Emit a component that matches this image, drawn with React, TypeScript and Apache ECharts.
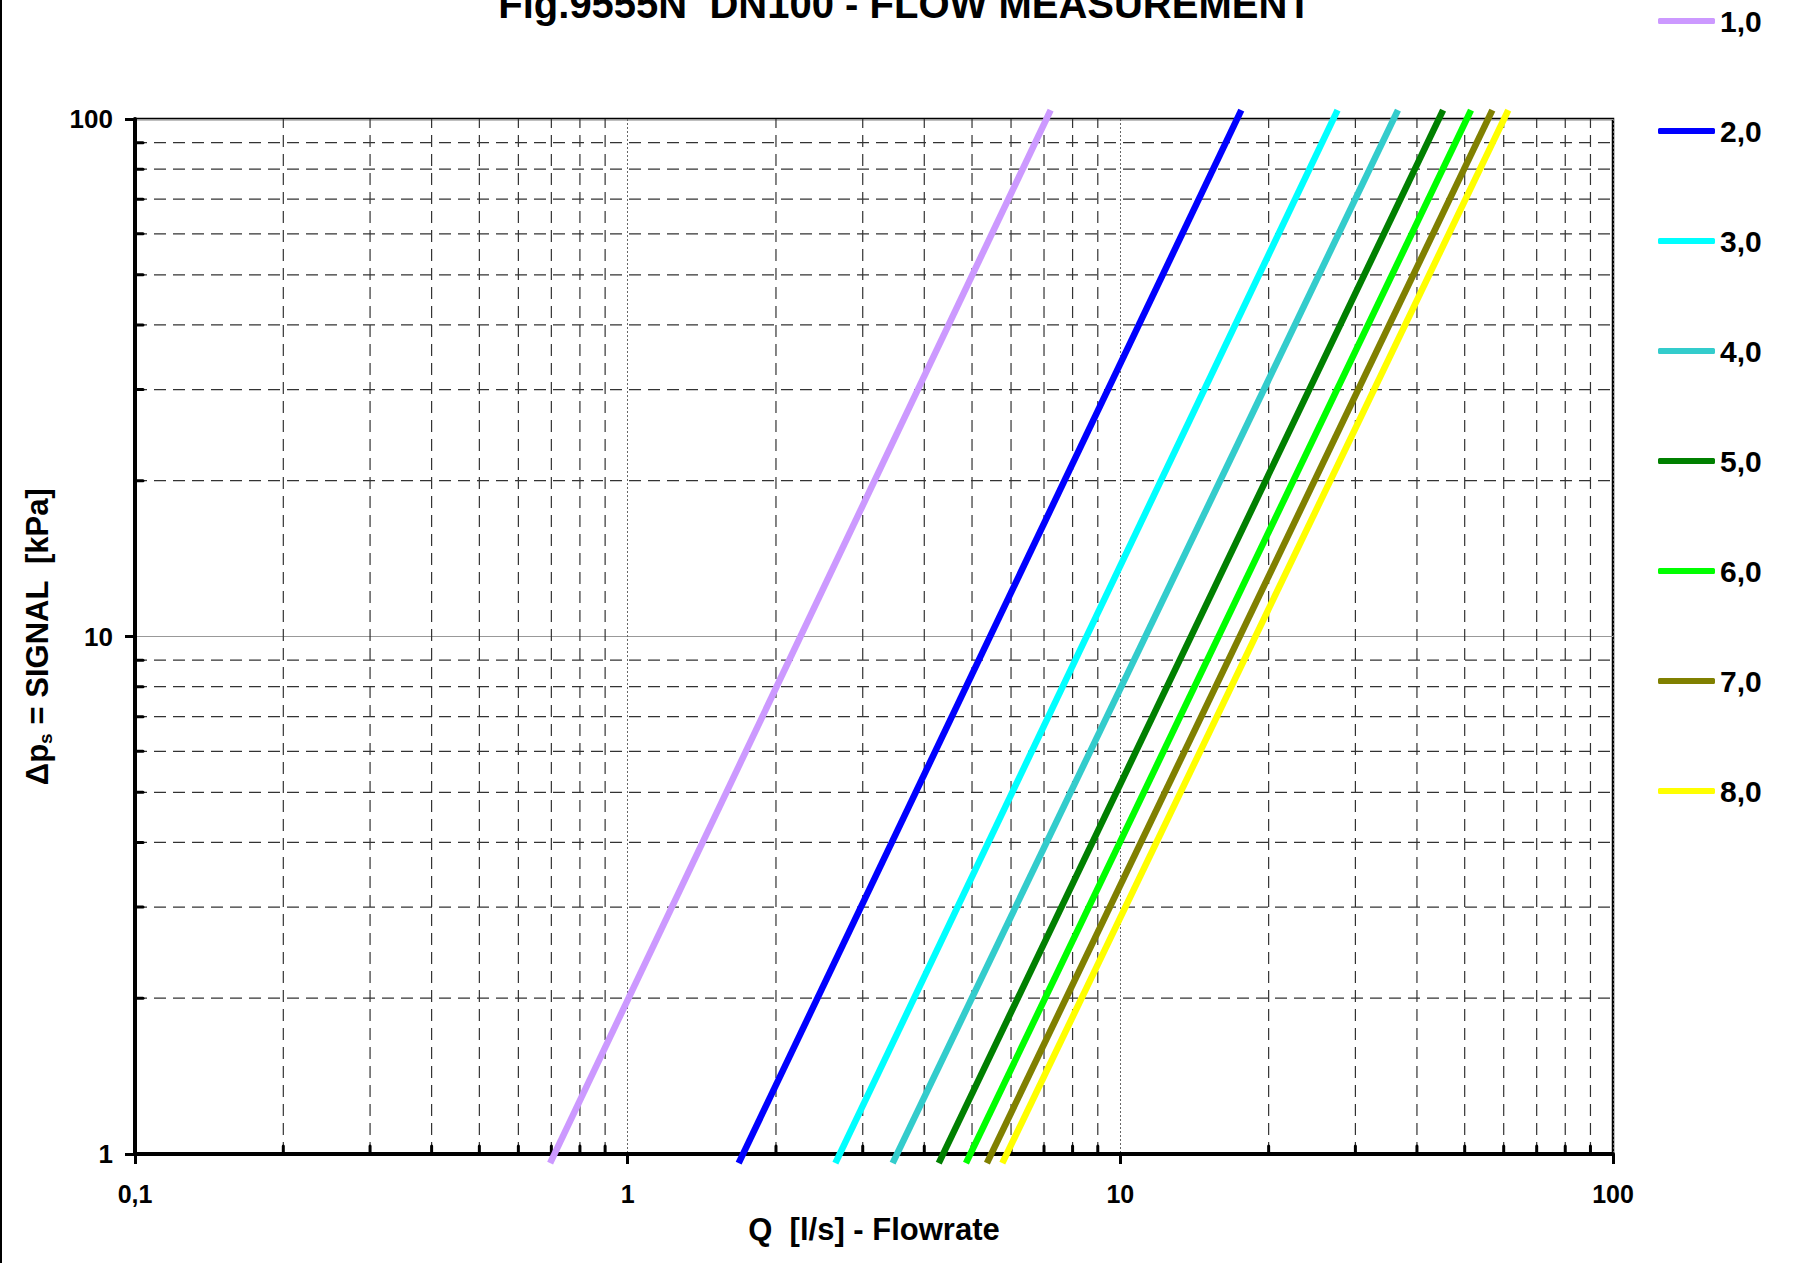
import React, { useEffect, useRef } from "react";
import * as echarts from "echarts";

// ---------- data ----------
const seriesNames = ["1,0", "2,0", "3,0", "4,0", "5,0", "6,0", "7,0", "8,0"];
const seriesColors = ["#cc99ff", "#0000ff", "#00ffff", "#33cccc", "#008000", "#00ff00", "#808000", "#ffff00"];
// Flow Q [l/s] read at the visible ends of each curve: Δp ≈ 0.96 kPa (bottom) and Δp ≈ 104 kPa (top)
const dpLow = 0.96;
const dpHigh = 104;
const qAtLow = [0.696, 1.68, 2.64, 3.45, 4.28, 4.86, 5.36, 5.76];
const qAtHigh = [7.22, 17.6, 27.6, 36.6, 45.2, 51.5, 56.9, 61.3];

// axis ranges & minor grid values
const X_MIN = 0.1;
const X_MAX = 100;
const Y_MIN = 1;
const Y_MAX = 100;
const xMinor = [0.2, 0.3, 0.4, 0.5, 0.6, 0.7, 0.8, 0.9, 2, 3, 4, 5, 6, 7, 8, 9, 20, 30, 40, 50, 60, 70, 80, 90];
const yMinor = [2, 3, 4, 5, 6, 7, 8, 9, 20, 30, 40, 50, 60, 70, 80, 90];

const TITLE = "Fig.9555N  DN100 - FLOW MEASUREMENT";
const X_NAME = "Q  [l/s] - Flowrate";

const FONT = "'Liberation Sans', Arial, sans-serif";

export default function App() {
  const ref = useRef<HTMLDivElement>(null);
  useEffect(() => {
    if (!ref.current) return;
    const chart = echarts.init(ref.current, null, { renderer: "svg" });

    const gridData: number[][] = [
      ...xMinor.map((v) => [v, Y_MIN, 0]),
      ...yMinor.map((v) => [X_MIN, v, 1]),
    ];

    const lineSeries = seriesNames.map((name, i) => ({
      type: "line",
      name,
      data: [
        [qAtLow[i], dpLow],
        [qAtHigh[i], dpHigh],
      ],
      symbol: "none",
      clip: false,
      color: seriesColors[i],
      lineStyle: { color: seriesColors[i], width: 6.5, cap: "butt" },
      z: 5,
      silent: true,
    }));

    const option: any = {
      animation: false,
      backgroundColor: "#ffffff",
      grid: {
        left: 135,
        top: 119,
        right: 185,
        bottom: 109,
        show: true,
        borderColor: "#000",
        borderWidth: 2.5,
        backgroundColor: "transparent",
      },
      legend: {
        orient: "vertical",
        left: 1658,
        top: 6,
        padding: 0,
        itemWidth: 57,
        itemHeight: 6,
        itemGap: 80,
        icon: "roundRect",
        data: seriesNames,
        selectedMode: false,
        textStyle: {
          color: "#000",
          fontSize: 30,
          fontWeight: "bold",
          fontFamily: FONT,
          lineHeight: 30,
        },
      },
      graphic: [
        {
          type: "rect",
          left: 0,
          top: 0,
          shape: { x: 0, y: 0, width: 2, height: 1263 },
          style: { fill: "#000" },
          silent: true,
        },
        {
          type: "text",
          x: 905,
          y: 4,
          style: {
            text: TITLE,
            textAlign: "center",
            textVerticalAlign: "middle",
            fill: "#000",
            font: `bold 40px ${FONT}`,
          },
          silent: true,
        },
      ],
      xAxis: {
        type: "log",
        logBase: 10,
        min: X_MIN,
        max: X_MAX,
        name: X_NAME,
        nameLocation: "middle",
        nameGap: 60,
        nameTextStyle: { color: "#000", fontSize: 31, fontWeight: "bold", fontFamily: FONT },
        axisLine: { show: true, lineStyle: { color: "#000", width: 4 } },
        axisTick: { show: true, inside: false, length: 10, lineStyle: { color: "#000", width: 3 } },
        axisLabel: {
          color: "#000",
          fontSize: 25,
          fontWeight: "bold",
          fontFamily: FONT,
          margin: 27,
          formatter: (v: number) => String(v).replace(".", ","),
        },
        splitLine: { show: true, lineStyle: { color: "#666", width: 1, type: [2, 2] } },
      },
      yAxis: {
        type: "log",
        logBase: 10,
        min: Y_MIN,
        max: Y_MAX,
        name: "{a|Δp}{s|s}{a| = SIGNAL  [kPa]}",
        nameLocation: "middle",
        nameRotate: 90,
        nameGap: 80,
        nameTextStyle: {
          rich: {
            a: { fontSize: 31, fontWeight: "bold", fontFamily: FONT, color: "#000", lineHeight: 36 },
            s: { fontSize: 19, fontWeight: "bold", fontFamily: FONT, color: "#000", lineHeight: 19, verticalAlign: "bottom" },
          },
        },
        axisLine: { show: true, lineStyle: { color: "#000", width: 4 } },
        axisTick: { show: true, inside: false, length: 10, lineStyle: { color: "#000", width: 3 } },
        axisLabel: {
          color: "#000",
          fontSize: 26,
          fontWeight: "bold",
          fontFamily: FONT,
          margin: 22,
        },
        splitLine: { show: true, lineStyle: { color: "#999", width: 1 } },
      },
      series: [
        {
          type: "custom",
          silent: true,
          z: 1,
          clip: false,
          encode: { x: 0, y: 1 },
          data: gridData,
          renderItem: (params: any, api: any) => {
            const v0 = api.value(0);
            const v1 = api.value(1);
            const kind = api.value(2);
            if (kind === 0) {
              const p1 = api.coord([v0, Y_MIN]);
              const p2 = api.coord([v0, Y_MAX]);
              return {
                type: "group",
                children: [
                  {
                    type: "line",
                    shape: { x1: p1[0], y1: p1[1], x2: p2[0], y2: p2[1] },
                    style: { stroke: "#333", lineWidth: 1.2, lineDash: [12, 7] },
                  },
                  {
                    type: "line",
                    shape: { x1: p1[0], y1: p1[1], x2: p1[0], y2: p1[1] - 8 },
                    style: { stroke: "#000", lineWidth: 3, lineCap: "round" },
                  },
                ],
              };
            }
            const p1 = api.coord([X_MIN, v1]);
            const p2 = api.coord([X_MAX, v1]);
            return {
              type: "group",
              children: [
                {
                  type: "line",
                  shape: { x1: p1[0], y1: p1[1], x2: p2[0], y2: p2[1] },
                  style: { stroke: "#333", lineWidth: 1.2, lineDash: [12, 7] },
                },
                {
                  type: "line",
                  shape: { x1: p1[0], y1: p1[1], x2: p1[0] + 8, y2: p1[1] },
                  style: { stroke: "#000", lineWidth: 3, lineCap: "round" },
                },
              ],
            };
          },
        },
        ...lineSeries,
      ],
    };

    chart.setOption(option);
    return () => chart.dispose();
  }, []);

  return (
    <div
      ref={ref}
      style={{ position: "absolute", left: 0, top: 0, width: 1798, height: 1263, background: "#fff" }}
    />
  );
}
